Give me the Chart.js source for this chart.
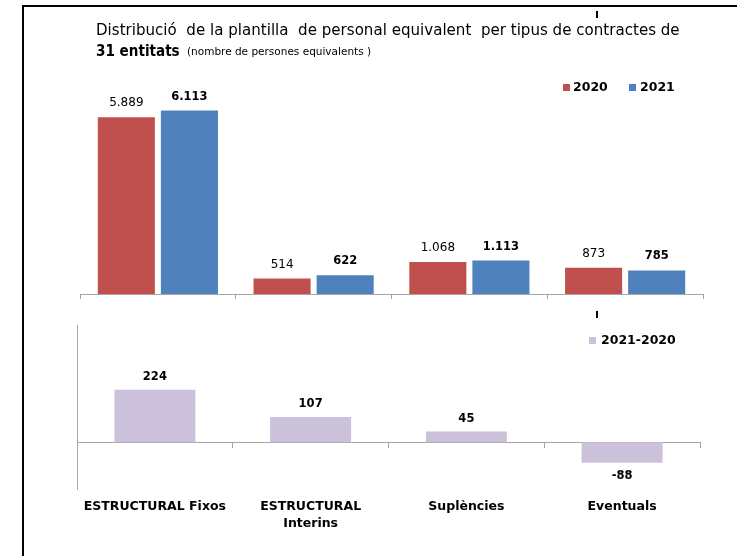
<!DOCTYPE html>
<html>
<head>
<meta charset="utf-8">
<script src="https://cdn.jsdelivr.net/npm/chart.js@4.4.0/dist/chart.umd.min.js"></script>
<style>
html,body{margin:0;padding:0;background:#fff;}
#wrap{position:relative;width:737px;height:556px;overflow:hidden;background:#fff;font-family:"DejaVu Sans",sans-serif;color:#000;}
.frame{position:absolute;left:22px;top:5px;width:800px;height:700px;border-top:2px solid #000;border-left:2px solid #000;}
.mark{position:absolute;width:2px;height:7px;background:#000;}
canvas{position:absolute;left:0;}
#c1{top:0;}
#c2{top:310px;}
.t{position:absolute;white-space:pre;transform-origin:0 50%;line-height:1;}
.sq{position:absolute;width:7px;height:7px;}
</style>
</head>
<body>
<div id="wrap">
  <div class="frame"></div>
  <div class="mark" style="left:596px;top:11px;"></div>
  <div class="mark" style="left:596px;top:311px;"></div>
  <canvas id="c1" width="737" height="310"></canvas>
  <canvas id="c2" width="737" height="246"></canvas>
  <div class="t fit" data-w="584" style="left:96px;top:23px;font-size:15px;">Distribució  de la plantilla  de personal equivalent  per tipus de contractes de</div>
  <div class="t fit" data-w="84" style="left:96px;top:44px;font-size:15px;font-weight:bold;">31 entitats</div>
  <div class="t" style="left:187px;top:46px;font-size:10.5px;">(nombre de persones equivalents )</div>
  <div class="sq" style="left:563px;top:84px;background:#C0504D;"></div>
  <div class="t" style="left:573px;top:81px;font-size:12.5px;font-weight:bold;">2020</div>
  <div class="sq" style="left:629px;top:84px;background:#4F81BD;"></div>
  <div class="t" style="left:640px;top:81px;font-size:12.5px;font-weight:bold;">2021</div>
  <div class="sq" style="left:589px;top:337px;background:#CCC1DA;"></div>
  <div class="t" style="left:601px;top:334px;font-size:12.5px;font-weight:bold;">2021-2020</div>
</div>
<script>
const categories = ['ESTRUCTURAL Fixos', ['ESTRUCTURAL', 'Interins'], 'Suplències', 'Eventuals'];
const values2020 = [5889, 514, 1068, 873];
const values2021 = [6113, 622, 1113, 785];
const diff2021_2020 = [224, 107, 45, -88];

document.querySelectorAll('.fit').forEach(el => {
  const w = parseFloat(el.dataset.w);
  el.style.transform = 'scaleX(' + (w / el.offsetWidth) + ')';
});

function fmt(v) {
  const s = String(Math.abs(v)).replace(/\B(?=(\d{3})+(?!\d))/g, '.');
  return (v < 0 ? '-' : '') + s;
}

const valueLabels = {
  id: 'valueLabels',
  afterDatasetsDraw(chart, args, opts) {
    const ctx = chart.ctx;
    chart.data.datasets.forEach((ds, i) => {
      const meta = chart.getDatasetMeta(i);
      meta.data.forEach((bar, j) => {
        const v = ds.data[j];
        ctx.save();
        ctx.font = (opts.fonts && opts.fonts[i]) || 'bold 12px "DejaVu Sans"';
        ctx.fillStyle = '#000';
        ctx.textAlign = 'center';
        ctx.textBaseline = 'middle';
        const y = v >= 0 ? bar.y - opts.gap : bar.y + opts.gap;
        ctx.fillText(fmt(v), bar.x, y);
        ctx.restore();
      });
    });
  }
};

const axisGray = '#A6A6A6';

new Chart(document.getElementById('c1'), {
  type: 'bar',
  data: {
    labels: categories,
    datasets: [
      { label: '2020', data: values2020, backgroundColor: '#C0504D', categoryPercentage: 0.81, barPercentage: 0.905 },
      { label: '2021', data: values2021, backgroundColor: '#4F81BD', categoryPercentage: 0.81, barPercentage: 0.905 }
    ]
  },
  options: {
    responsive: false,
    animation: false,
    layout: { padding: { left: 80, right: 34, top: 84, bottom: 0 } },
    plugins: {
      legend: { display: false },
      tooltip: { enabled: false },
      valueLabels: { gap: 14, fonts: ['12px "DejaVu Sans"', 'bold 11.5px "DejaVu Sans"'] }
    },
    scales: {
      x: {
        offset: true,
        grid: { offset: true, drawOnChartArea: false, drawTicks: true, tickLength: 5, color: axisGray },
        border: { display: true, color: axisGray, width: 1 },
        ticks: { display: false },
        afterFit(s) { s.height = 16; }
      },
      y: { display: false, min: 0, max: 7000 }
    }
  },
  plugins: [valueLabels]
});

new Chart(document.getElementById('c2'), {
  type: 'bar',
  data: {
    labels: categories,
    datasets: [
      { label: '2021-2020', data: diff2021_2020, backgroundColor: '#CCC1DA', categoryPercentage: 0.52, barPercentage: 1, xAxisID: 'x', yAxisID: 'y' }
    ]
  },
  options: {
    responsive: false,
    animation: false,
    layout: { padding: { left: 77, right: 37, top: 15, bottom: 0 } },
    plugins: {
      legend: { display: false },
      tooltip: { enabled: false },
      valueLabels: { gap: 13, fonts: ['bold 11.5px "DejaVu Sans"'] }
    },
    scales: {
      x: {
        axis: 'x',
        position: { y: 0 },
        offset: true,
        grid: { offset: true, drawOnChartArea: false, drawTicks: true, tickLength: 5, color: axisGray },
        border: { display: true, color: axisGray, width: 1 },
        ticks: { display: false },
        afterFit(s) { s.height = 0; }
      },
      x2: {
        axis: 'x',
        type: 'category',
        position: 'bottom',
        offset: true,
        grid: { display: false, drawTicks: false },
        border: { display: false },
        ticks: {
          color: '#000',
          font: { family: '"DejaVu Sans"', size: 12.5, weight: 'bold', lineHeight: 1.3 },
          padding: 10,
          maxRotation: 0,
          autoSkip: false
        },
        afterFit(s) { s.height = 67; }
      },
      y: {
        min: -200,
        max: 500,
        grid: { display: false, drawTicks: false },
        border: { display: true, color: axisGray, width: 1 },
        ticks: { display: false },
        afterFit(s) { s.width = 0; }
      }
    }
  },
  plugins: [valueLabels]
});
</script>
</body>
</html>
